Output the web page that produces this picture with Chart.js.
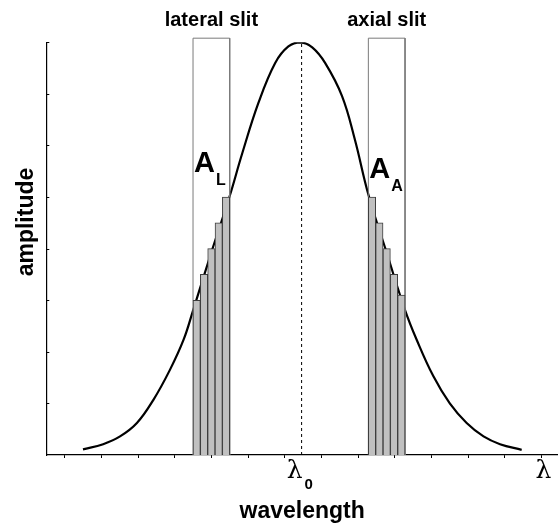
<!DOCTYPE html>
<html>
<head>
<meta charset="utf-8">
<script src="https://cdn.jsdelivr.net/npm/chart.js@4"></script>
<style>
  body { margin: 0; background: #fff; }
  #wrap { width: 558px; height: 523px; }
</style>
</head>
<body>
<div id="wrap"><canvas id="grafico"></canvas></div>
<script>
// DATOS (unidades = marcas del eje)
const curvaX = [1.0, 1.55, 2.01, 2.47, 2.92, 3.37, 3.74, 4.0, 4.5, 5.0, 5.33, 5.78, 6.24, 6.6, 6.93, 7.25, 7.6, 8.06, 8.41, 8.78, 9.28, 9.78, 10.1, 10.55, 11.0, 11.46, 11.92, 12.37, 12.96]
const curvaY = [0.11, 0.21, 0.36, 0.62, 1.07, 1.65, 2.23, 2.8, 3.93, 5.02, 5.82, 6.82, 7.6, 7.92, 8.0, 7.9, 7.6, 6.96, 6.12, 5.05, 3.92, 2.81, 2.23, 1.53, 1.0, 0.62, 0.36, 0.21, 0.10]

const barrasX = [4.1, 4.3, 4.5, 4.7, 4.9, 8.88, 9.08, 9.28, 9.48, 9.68]
const barrasY = [3, 3.5, 4, 4.5, 5, 5, 4.5, 4, 3.5, 3.1]

const rendijaNombre = ["lateral slit", "axial slit"]
const rendijaIzq = [4.0, 8.78]
const rendijaDer = [5.0, 9.78]
const rendijaAlto = 8.08
const subindices = ["L", "A"]

const lambda0 = 6.96
const lambdaFin = 13.55

const fuente = "'Liberation Sans', Arial, sans-serif"

// FUNCIONES
function rectangulo(x0, x1, alto) {
    return [{ x: x0, y: 0 }, { x: x0, y: alto }, { x: x1, y: alto }, { x: x1, y: 0 }]
}

const textos = {
    id: "textos",
    afterDraw(chart) {
        const ctx = chart.ctx
        const sx = chart.scales.x
        const sy = chart.scales.y
        ctx.save()
        ctx.fillStyle = "#000"

        // marcas del eje y hacia dentro
        ctx.strokeStyle = "#000"
        ctx.lineWidth = 1
        for (let v = 1; v <= 8; v++) {
            const py = Math.round(sy.getPixelForValue(v)) + 0.5
            ctx.beginPath()
            ctx.moveTo(sx.left, py)
            ctx.lineTo(sx.left + 3, py)
            ctx.stroke()
        }

        // nombres de las rendijas y A_L / A_A
        for (let i = 0; i < rendijaNombre.length; i++) {
            const xc = sx.getPixelForValue((rendijaIzq[i] + rendijaDer[i]) / 2)
            ctx.font = "bold 20px " + fuente
            ctx.textAlign = "center"
            ctx.textBaseline = "alphabetic"
            ctx.fillText(rendijaNombre[i], xc, sy.getPixelForValue(rendijaAlto) - 12)

            const xl = sx.getPixelForValue(rendijaIzq[i]) + 1
            const base = i === 0 ? 172 : 178
            ctx.textAlign = "left"
            ctx.font = "bold 29px " + fuente
            ctx.fillText("A", xl, base)
            const w = ctx.measureText("A").width
            ctx.font = "bold 16px " + fuente
            ctx.fillText(subindices[i], xl + w + 1, base + 13)
        }

        // etiquetas del eje x
        const yLab = sy.bottom + 23
        ctx.font = "25px 'DejaVu Serif', serif"
        ctx.textAlign = "center"
        const xl0 = sx.getPixelForValue(lambda0) - 7
        ctx.fillText("λ", xl0, yLab)
        ctx.font = "bold 15px " + fuente
        ctx.textAlign = "left"
        ctx.fillText("0", xl0 + 10, yLab + 11)
        ctx.font = "25px 'DejaVu Serif', serif"
        ctx.textAlign = "center"
        ctx.fillText("λ", sx.getPixelForValue(lambdaFin), yLab)

        // títulos de los ejes
        ctx.font = "bold 23px " + fuente
        ctx.fillText("wavelength", (sx.left + sx.right) / 2, sy.bottom + 63)
        ctx.translate(33, 222)
        ctx.rotate(-Math.PI / 2)
        ctx.fillText("amplitude", 0, 0)
        ctx.restore()
    }
}

function graficar(idElementoDom) {
    const curva = curvaX.map((k, i) => ({ x: k, y: curvaY[i] }))
    const barras = barrasX.map((k, i) => ({ x: k, y: barrasY[i] }))
    const datasets = [
        {
            type: "line",
            data: curva,
            borderColor: "#000",
            borderWidth: 2.2,
            pointRadius: 0,
            tension: 0.4,
            order: 4,
        },
        {
            type: "line",
            data: [{ x: lambda0, y: 0 }, { x: lambda0, y: 8 }],
            borderColor: "#000",
            borderWidth: 1,
            borderDash: [3, 3],
            pointRadius: 0,
            order: 5,
        },
        {
            type: "bar",
            data: barras,
            backgroundColor: "#c0c0c0",
            borderColor: "#3c3c3c",
            borderWidth: 1,
            barPercentage: 1,
            categoryPercentage: 1,
            order: 1,
        },
    ]
    for (let i = 0; i < rendijaNombre.length; i++) {
        datasets.push({
            type: "line",
            data: rectangulo(rendijaIzq[i], rendijaDer[i], rendijaAlto),
            borderColor: "#7a7a7a",
            borderWidth: 1,
            pointRadius: 0,
            tension: 0,
            clip: false,
            order: 2,
        })
    }

    const ctx = document.getElementById(idElementoDom).getContext("2d")
    new Chart(ctx, {
        type: "line",
        data: { datasets: datasets },
        options: {
            responsive: true,
            maintainAspectRatio: false,
            animation: false,
            layout: { padding: { left: 46.3, top: 42.3, right: 0, bottom: 65 } },
            scales: {
                x: {
                    type: "linear",
                    min: 0,
                    max: 13.95,
                    offset: false,
                    border: { color: "#000", width: 1.2 },
                    grid: { drawOnChartArea: false, color: "#000", tickLength: 3 },
                    ticks: { display: false, stepSize: 1, includeBounds: false },
                },
                y: {
                    min: 0,
                    max: 8,
                    border: { color: "#000", width: 1.2 },
                    grid: { display: false, drawTicks: false },
                    ticks: { display: false, stepSize: 1 },
                },
            },
            plugins: {
                legend: { display: false },
                tooltip: { enabled: false },
            },
        },
        plugins: [textos],
    })
}

// EJECUCIÓN
graficar("grafico")
</script>
</body>
</html>
